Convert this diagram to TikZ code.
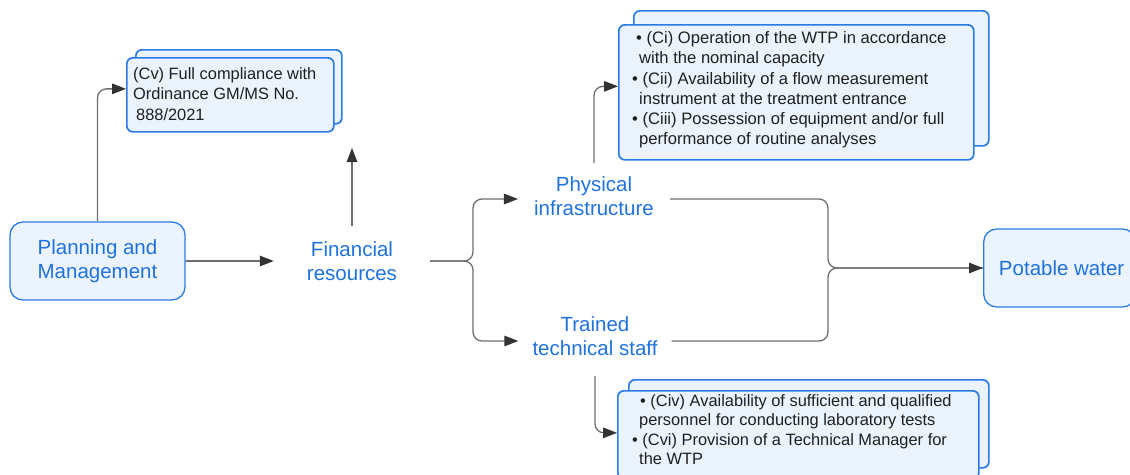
\documentclass[tikz,border=0pt]{standalone}
\usepackage{fontspec}
\setmainfont{Liberation Sans}
\usetikzlibrary{arrows.meta,calc}
\definecolor{cardblue}{HTML}{2A7BE6}
\definecolor{cardfill}{HTML}{EBF4FE}
\definecolor{labelblue}{HTML}{1F72DE}
\definecolor{wire}{HTML}{6E6E6E}
\definecolor{tipgray}{HTML}{333333}
\begin{document}
\begin{tikzpicture}[x=1pt,y=-1pt,
  big/.style={font=\fontsize{20.5}{24.5}\selectfont, text=labelblue},
  pill/.style={big, draw=cardblue, fill=cardfill, line width=1.3pt,
    rounded corners=13pt, align=center},
  card/.style={draw=cardblue, fill=cardfill, line width=1.7pt,
    rounded corners=6pt, anchor=north west, inner sep=0pt},
  cardtext/.style={anchor=north west, inner sep=0pt, align=left, text=black!88},
  label/.style={big, align=center},
  conn/.style={draw=wire, line width=1.3pt, rounded corners=9pt},
  arr/.style={conn, -{Triangle[length=14pt,width=10.5pt,color=tipgray,fill=tipgray]}}
]
\useasboundingbox (0,0) rectangle (1130,474);
\clip (0,0) rectangle (1130,474);

% stacked requirement cards: a back sheet, the front sheet, and its text
\node[card, minimum width=206pt, minimum height=74pt] (cvback) at (135,49) {};
\node[card, minimum width=207pt, minimum height=74pt] (cv) at (126,57) {};
\node[cardtext, font=\fontsize{16.4}{20.4}\selectfont] (cvtext) at (133,67.5)
  {(Cv) Full compliance with\\Ordinance GM/MS No.\\\hspace*{3pt}888/2021};

\node[card, minimum width=355pt, minimum height=135pt] (topback) at (633,10) {};
\node[card, minimum width=355pt, minimum height=135pt] (top) at (618,24) {};
\node[cardtext, font=\fontsize{16.6}{20.2}\selectfont] (toptext) at (631,31.5)
  {\hspace*{5pt}•\ (Ci) Operation of the WTP in accordance\\
   \hspace*{8pt}with the nominal capacity\\
   \hspace*{1pt}•\ (Cii) Availability of a flow measurement\\
   \hspace*{8pt}instrument at the treatment entrance\\
   \hspace*{1pt}•\ (Ciii) Possession of equipment and/or full\\
   \hspace*{8pt}performance of routine analyses};

\node[card, minimum width=360pt, minimum height=88pt] (botback) at (628,379) {};
\node[card, minimum width=361pt, minimum height=88pt] (bot) at (617,390) {};
\node[cardtext, font=\fontsize{16.4}{19.4}\selectfont] (bottext) at (631,394.5)
  {\hspace*{9pt}•\ (Civ) Availability of sufficient and qualified\\
   \hspace*{8pt}personnel for conducting laboratory tests\\
   \hspace*{1pt}•\ (Cvi) Provision of a Technical Manager for\\
   \hspace*{8pt}the WTP};

% main flow
\node[pill, minimum width=175pt, minimum height=78pt] (plan) at (97.5,261) {Planning and\\Management};
\node[label, inner xsep=33pt, inner ysep=15pt] (fin) at (352,261) {Financial\\resources};
\node[label, inner xsep=16pt, inner ysep=13pt] (phys) at (594,196) {Physical\\infrastructure};
\node[label, inner xsep=14pt, inner ysep=20pt] (train) at (595,336) {Trained\\technical staff};
\node[pill, minimum width=152pt, minimum height=78pt, anchor=west] (pot) at (983,268) {\hspace*{4pt}Potable water};

\coordinate (finup) at (352,148);
\coordinate (split) at (473,261);
\coordinate (join) at (828,268);

% connectors
\draw[arr] (plan.north) |- ([yshift=6pt]cv.west);
\draw[arr] (plan.east) -- (fin.west);
\draw[arr] (fin.north) -- (finup);
\draw[arr] (fin.east) -- (split) |- ([yshift=-3pt]phys.west);
\draw[arr] (fin.east) -- (split) |- ([yshift=-5pt]train.west);
\draw[arr] (phys.north) |- ([yshift=6pt]top.west);
\draw[arr] (train.south) |- ([yshift=2pt]bot.west);
\draw[conn] ([yshift=-5pt]train.east) -| (join) -- (pot.west);
\draw[arr] ([yshift=-3pt]phys.east) -| (join) -- (pot.west);
\end{tikzpicture}
\end{document}
